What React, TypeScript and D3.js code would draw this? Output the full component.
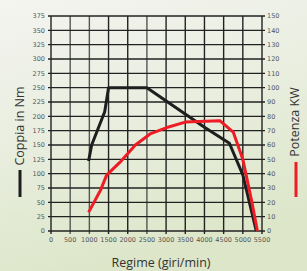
import * as d3 from 'd3';

// Engine curves
const torqueRpm = [980, 1060, 1400, 1500, 2500, 4000, 4650, 5000, 5350];
const torqueNm = [122, 150, 208, 250, 250, 181, 153, 98, 0];
const powerRpm = [980, 1300, 1450, 1800, 2200, 2600, 3000, 3500, 4400, 4750, 5000, 5230, 5380];
const powerKw = [13, 29, 39, 48, 60, 68, 72, 76, 77, 69, 50, 21, 0];

const rpmTicks = d3.range(0, 5501, 500);
const nmTicks = d3.range(0, 376, 25);
const kwTicks = d3.range(0, 151, 10);

const W = 307;
const H = 271;
const margin = { top: 16, right: 45, bottom: 40, left: 51 };

export default function App() {
  const w = W - margin.left - margin.right;
  const h = H - margin.top - margin.bottom;

  const x = d3.scaleLinear().domain([0, 5500]).range([0, w]);
  const yNm = d3.scaleLinear().domain([0, 375]).range([h, 0]);
  const yKw = d3.scaleLinear().domain([0, 150]).range([h, 0]);

  const torque = torqueRpm.map((r, i) => [r, torqueNm[i]] as [number, number]);
  const power = powerRpm.map((r, i) => [r, powerKw[i]] as [number, number]);

  const torqueLine = d3.line<[number, number]>()
    .x((d) => x(d[0]))
    .y((d) => yNm(d[1]));
  const powerLine = d3.line<[number, number]>()
    .x((d) => x(d[0]))
    .y((d) => yKw(d[1]));

  const tickFont = { fontFamily: 'DejaVu Sans', fontSize: 6.5, fill: '#555' };
  const titleFont = { fontFamily: 'Open Sans', fontSize: 12.5, fill: '#333' };

  return (
    <svg
      width={W}
      height={H}
      style={{ position: 'absolute', left: 0, top: 0, display: 'block' }}
    >
      <defs>
        <linearGradient id="bg" x1="0" y1="0" x2="0.3" y2="1">
          <stop offset="0" stopColor="#f4f4f0" />
          <stop offset="0.5" stopColor="#e9eedf" />
          <stop offset="1" stopColor="#dde6c9" />
        </linearGradient>
      </defs>
      <rect width={W} height={H} fill="url(#bg)" />

      <g transform={`translate(${margin.left},${margin.top})`}>
        {/* grid */}
        {rpmTicks.map((t) => (
          <line
            key={'v' + t}
            x1={x(t)}
            x2={x(t)}
            y1={0}
            y2={h + 3}
            stroke={t === 500 || t === 1000 || t === 2500 ? '#555' : '#222'}
            strokeWidth={1.4}
          />
        ))}
        {nmTicks.map((t) => (
          <line
            key={'h' + t}
            x1={-3}
            x2={w + 3}
            y1={yNm(t)}
            y2={yNm(t)}
            stroke="#222"
            strokeWidth={1.4}
          />
        ))}

        {/* curves */}
        <path d={torqueLine(torque) || ''} fill="none" stroke="#1e1e1e" strokeWidth={3} strokeLinejoin="round" />
        <path d={powerLine(power) || ''} fill="none" stroke="#ee1c25" strokeWidth={3} strokeLinejoin="round" />

        {/* left ticks */}
        {nmTicks.map((t) => (
          <text key={'l' + t} x={-6} y={yNm(t)} dy="0.35em" textAnchor="end" {...tickFont}>
            {t}
          </text>
        ))}
        {/* right ticks */}
        {kwTicks.map((t) => (
          <text key={'r' + t} x={w + 5} y={yKw(t)} dy="0.35em" textAnchor="start" {...tickFont}>
            {t}
          </text>
        ))}
        {/* bottom ticks */}
        {rpmTicks.map((t) => (
          <text key={'b' + t} x={x(t)} y={h + 11} textAnchor="middle" {...tickFont}>
            {t}
          </text>
        ))}
      </g>

      {/* axis titles with legend swatches */}
      <text transform="translate(24,126) rotate(-90)" textAnchor="middle" {...titleFont}>
        Coppia in Nm
      </text>
      <line x1={20} x2={20} y1={170} y2={197} stroke="#1e1e1e" strokeWidth={3} />

      <text transform="translate(299,122) rotate(-90)" textAnchor="middle" {...titleFont}>
        Potenza KW
      </text>
      <line x1={296} x2={296} y1={162} y2={197} stroke="#ee1c25" strokeWidth={3} />

      <text x={161} y={267} textAnchor="middle" {...titleFont}>
        Regime (giri/min)
      </text>
    </svg>
  );
}
